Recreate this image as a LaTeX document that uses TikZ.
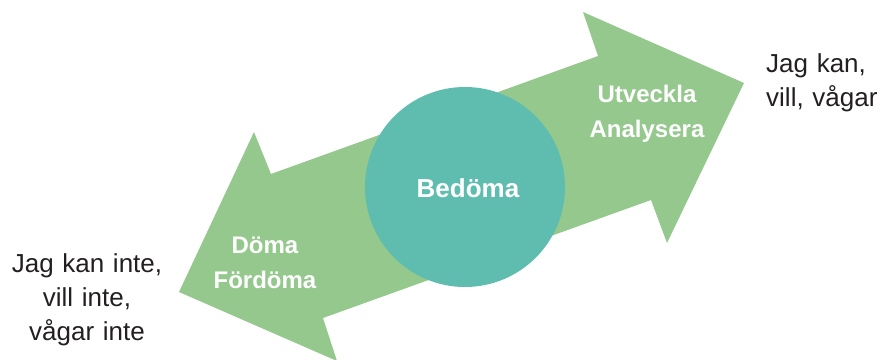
\documentclass[tikz,border=0pt]{standalone}
\usepackage{fontspec}
\setmainfont{Liberation Sans}
\definecolor{arrowgreen}{HTML}{95C88D}
\definecolor{circteal}{HTML}{5FBDB0}
\definecolor{txtcol}{HTML}{231F20}
\begin{document}
\begin{tikzpicture}[x=1pt,y=-1pt,
  inlabel/.style={text=white, font=\bfseries\fontsize{24}{35}\selectfont, align=center, inner sep=0pt, text width=130pt},
  outlabel/.style={text=txtcol, font=\fontsize{26}{34}\selectfont, inner sep=0pt, text width=160pt}]
\useasboundingbox (0,0) rectangle (883,359);
\fill[arrowgreen] (179,292) -- (254,132) -- (271,174) -- (598,56) -- (583,12) -- (744,83)
  -- (667,243) -- (651,200) -- (323,318) -- (337,361) -- cycle;
\node[circle, fill=circteal, minimum size=200pt, inner sep=0pt] (bed) at (465,187) {};
\node[text=white, font=\bfseries\fontsize{26}{30}\selectfont, inner sep=0pt, anchor=base] (bedtext) at (468,197) {Bedöma};
\node[inlabel, anchor=base] (right) at (647,102) {Utveckla\\Analysera};
\node[inlabel, anchor=base] (left) at (265,253) {Döma\\Fördöma};
\node[outlabel, align=left, anchor=base west] (rt) at (766,72) {Jag kan,\\vill, vågar};
\node[outlabel, align=center, anchor=base] (lt) at (87,272) {Jag kan inte,\\vill inte,\\vågar inte};
\end{tikzpicture}
\end{document}
